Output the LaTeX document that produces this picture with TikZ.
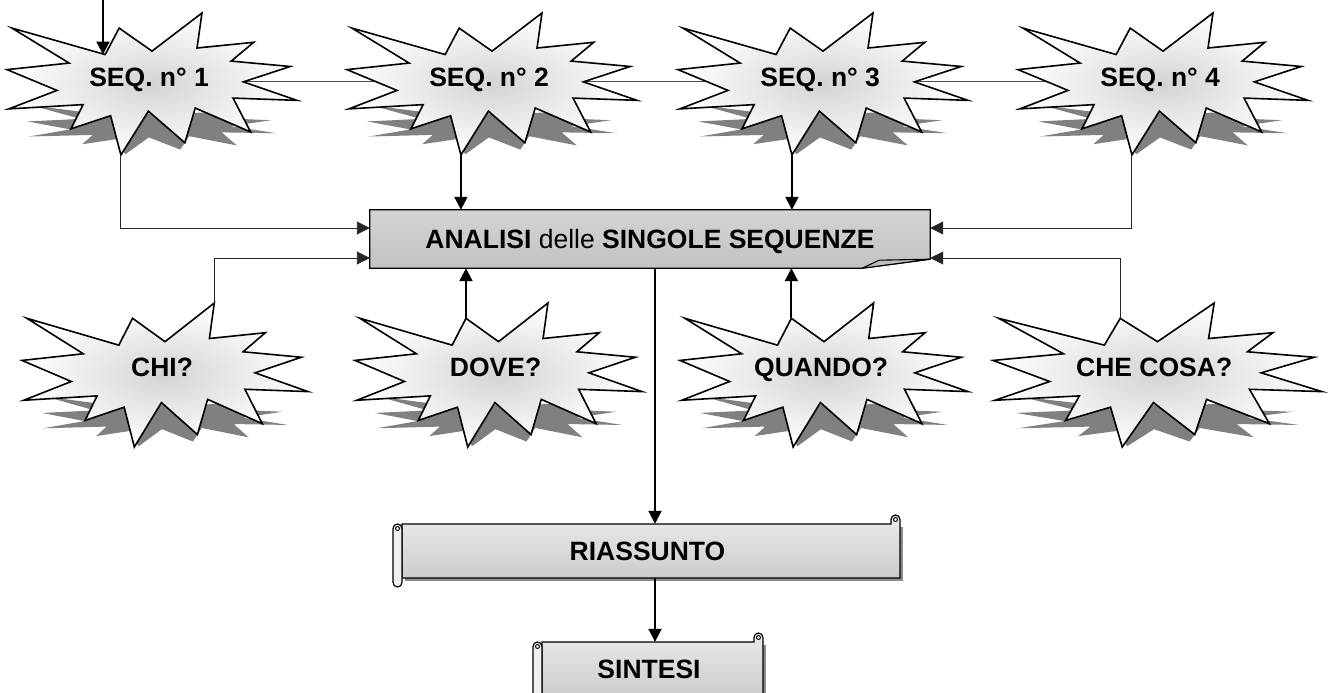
\documentclass[tikz,border=0pt]{standalone}
\usepackage{fontspec}
\setmainfont{Liberation Sans}
\usetikzlibrary{arrows.meta}
\pgfdeclarelayer{bg}
\pgfsetlayers{bg,main}

\tikzset{
  % explosion outline in a 100 x 100 frame
  burstpath/.style={insert path={(50,26.85) -- (67.23,0) -- (65.53,24.65) -- (85.09,20.63)
      -- (77.32,33.87) -- (97.67,37.67) -- (81.51,48.50) -- (100,61.53) -- (77.95,59.92)
      -- (84.00,83.77) -- (64.91,66.93) -- (61.33,91.38) -- (48.76,69.14) -- (39.28,100)
      -- (35.72,72.35) -- (22.05,81.56) -- (26.24,64.52) -- (0.63,67.53) -- (17.23,54.51)
      -- (0,39.88) -- (21.42,35.26) -- (1.71,10.63) -- (33.85,29.26) -- (38.67,10.63) -- cycle}},
  burstshadow/.style={fill=black!50},
  burstbody/.style={draw=black, line width=1.6pt, inner color=black!17, outer color=white},
  txt/.style={font=\fontsize{26.5}{31}\selectfont\bfseries, inner sep=0pt, anchor=base},
  boxfill/.style={draw=black, line width=1.2pt, top color=black!17, middle color=white, bottom color=black!24},
  foldfill/.style={draw=black, line width=1.1pt, fill=black!25},
  scrollfill/.style={draw=black, line width=1.2pt, top color=black!8, middle color=white, bottom color=black!20},
  rollfill/.style={draw=black, line width=1.2pt, fill=black!6},
  scrollline/.style={draw=black, line width=0.9pt},
  scrollshadow/.style={fill=black!45},
  arr/.style={-{Triangle[length=13pt,width=13pt]}, line width=2pt, draw=black},
  thinarr/.style={-{Triangle[length=13pt,width=13pt]}, line width=0.9pt, draw=black!85},
  thinline/.style={line width=0.9pt, draw=black!70},
}

% explosion shape with its perspective shadow: name, left, top, width, height, text
\newcommand\burst[6]{%
  \begin{scope}[shift={(#2,#3)}, xscale=#4/100, yscale=#5/100]
    \begin{scope}[shift={(7,61)}, xscale=0.86, yscale=0.385]
      \path[burstshadow, burstpath];
    \end{scope}
    \path[burstbody, burstpath];
    \coordinate (#1-top) at (67.23,0);
    \coordinate (#1-bot) at (39.28,100);
    \coordinate (#1-spk) at (38.67,10.63);
    \coordinate (#1-in) at (33.85,29.26);
    \coordinate (#1-mid) at (50,48);
  \end{scope}
  \node[txt] (#1) at ({#2+0.49*#4},{#3+73}) {#6};
}

% horizontal scroll: name, left, top, right, bottom, text
\newcommand\scrollbox[6]{%
  \fill[scrollshadow] ({#2+12},{#3+3}) rectangle ({#4+3},{#5+3});
  \path[scrollfill] ({#2+9},{#3}) -- ({#4-9},{#3}) -- ({#4-9},{#3-4.5})
     arc[start angle=180, end angle=0, radius=4.5pt] -- ({#4},{#5}) -- ({#2+9},{#5}) -- cycle;
  \draw[scrollline] ({#4-4.5},{#3-4.5}) circle[radius=2pt];
  \path[rollfill] ({#2},{#3+4.5}) arc[start angle=180, end angle=0, radius=4.5pt]
     -- ({#2+9},{#5+4.5}) arc[start angle=0, end angle=-180, radius=4.5pt] -- cycle;
  \draw[scrollline] ({#2+4.5},{#3+4.5}) circle[radius=2pt];
  \node[inner sep=0pt, minimum width={#4pt-#2pt}, minimum height={#5pt-#3pt}]
     (#1) at ({(#2+#4)/2},{(#3+#5)/2}) {};
  \node[txt] (#1-t) at ({(#2+#4)/2+1},{(#3+#5)/2+9}) {#6};
}

\begin{document}
\begin{tikzpicture}[x=1pt, y=-1pt]
\useasboundingbox (0,0) rectangle (1330,693);
\clip (0,0) rectangle (1330,693);

% sequences
\burst{s1}{7}{13}{290}{142}{SEQ. n° 1}
\burst{s2}{347}{13}{290}{142}{SEQ. n° 2}
\burst{s3}{678}{13}{290}{142}{SEQ. n° 3}
\burst{s4}{1018}{13}{290}{142}{SEQ. n° 4}

% questions
\burst{chi}{22}{303}{286}{144}{CHI?}
\burst{dove}{355}{303}{287}{144}{DOVE?}
\burst{quando}{680}{303}{288}{144}{QUANDO?}
\burst{checosa}{993}{303}{329}{144}{CHE COSA?}

% analysis box with folded corner
\node[inner sep=0pt, minimum width=560pt, minimum height=58pt] (ana) at (650,239) {};
\path[boxfill] (ana.north west) -- (ana.north east) -- ([yshift=9pt]ana.south east)
  -- ([xshift=-68pt]ana.south east) -- (ana.south west) -- cycle;
\path[foldfill] ([xshift=-68pt]ana.south east) -- ([xshift=-51pt,yshift=8pt]ana.south east)
  -- ([yshift=9pt]ana.south east) -- cycle;
\node[txt] (ana-t) at (650,248) {ANALISI \mdseries delle \bfseries SINGOLE SEQUENZE};

% summary scrolls
\scrollbox{ria}{393}{524}{900}{578}{RIASSUNTO}
\scrollbox{sin}{533}{642}{763}{696}{SINTESI}

% thin line joining the sequences, behind the shapes
\begin{pgfonlayer}{bg}
  \fill[white] (0,0) rectangle (1330,693);
  \draw[thinline] (s1-mid) -- (s4-mid);
\end{pgfonlayer}

% connectors
\coordinate (entry) at (103,0);
\draw[arr] (entry) -- (entry |- s1-in);
\draw[thinarr] (s1-bot) |- ([yshift=11pt]ana.west);
\draw[arr] (s2-bot) -- (s2-bot |- ana.north);
\draw[arr] (s3-bot) -- (s3-bot |- ana.north);
\draw[thinarr] (s4-bot) |- ([yshift=11pt]ana.east);
\draw[thinarr] (chi-top) |- ([yshift=-19pt]ana.west);
\draw[arr] (dove-spk) -- (dove-spk |- ana.south);
\draw[arr] (quando-spk) -- (quando-spk |- ana.south);
\draw[thinarr] (checosa-spk) |- ([yshift=-19pt]ana.east);
\coordinate (drop) at ([xshift=5pt]ana.south);
\draw[arr] (drop) -- (drop |- ria.north);
\draw[arr] (drop |- ria.south) -- (drop |- sin.north);
\end{tikzpicture}
\end{document}
